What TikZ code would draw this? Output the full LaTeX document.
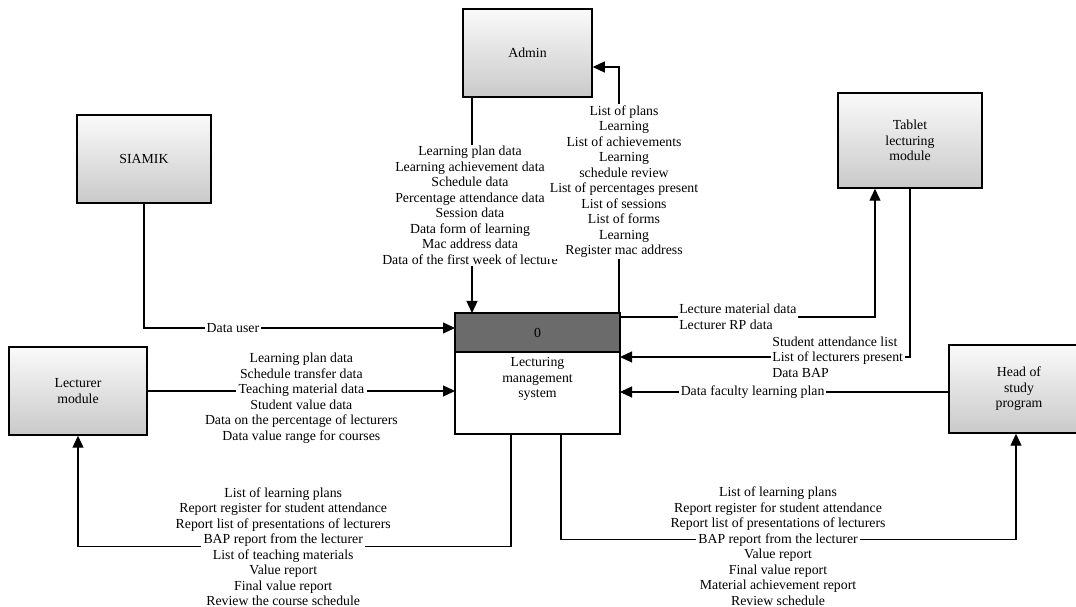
\documentclass[tikz,border=0pt]{standalone}
\usepackage{fontspec}
\setmainfont{Liberation Serif}
\usetikzlibrary{arrows.meta,positioning}

% white patch behind the line of a label that the connector runs through
\newcommand{\online}[1]{{\setlength{\fboxsep}{2.5pt}\colorbox{white}{#1}}}

\begin{document}
\begin{tikzpicture}[x=1pt, y=1pt,
  font=\fontsize{13.8}{15.5}\selectfont,
  entity/.style={draw, line width=1.5pt, top color=gray!4, bottom color=gray!42,
    minimum height=88pt, align=center, inner sep=2pt},
  prochead/.style={draw, line width=1.5pt, fill=black!58, minimum width=165pt,
    minimum height=39pt, outer sep=0pt},
  proc/.style={draw, line width=1.5pt, fill=white, minimum width=165pt,
    minimum height=82pt, outer sep=0pt, align=center},
  flow/.style={line width=1.3pt, -{Triangle[length=12pt,width=11pt]}},
  lbl/.style={align=center, fill=white, inner sep=1.5pt},
  lblplain/.style={align=center, inner sep=0pt}]

\path[use as bounding box, fill=white] (0,0) rectangle (1076,607);
\clip (0,0) rectangle (1076,607);

% external entities
\node[entity, minimum width=129pt] (admin) at (527.5,554) {Admin};
\node[entity, minimum width=134pt] (siamik) at (144,448) {SIAMIK};
\node[entity, minimum width=144pt, minimum height=95pt] (tablet) at (910,466.5) {Tablet\\lecturing\\module};
\node[entity, minimum width=138pt] (lecturer) at (78,216) {Lecturer\\module};
\node[entity, minimum width=140pt] (head) at (1019,218) {Head of\\study\\program};

% process 0
\node[prochead] (lmshead) at (537.5,274.5) {0};
\node[proc, below=0pt of lmshead] (lms) {Lecturing\\management\\system\\~\\~};

% flows
\draw[flow] ([xshift=-55.5pt]admin.south) -- node[lbl, midway, xshift=-2pt]
  {Learning plan data\\Learning achievement data\\Schedule data\\Percentage attendance data\\Session data\\Data form of learning\\Mac address data\\Data of the first week of lecture}
  ([xshift=-55.5pt]admin.south |- lmshead.north);

\draw[flow] ([xshift=-1pt]lmshead.north east) |- node[lbl, pos=0.267, xshift=5pt]
  {List of plans\\Learning\\List of achievements\\Learning\\schedule review\\List of percentages present\\List of sessions\\List of forms\\Learning\\Register mac address}
  ([yshift=-14pt]admin.east);

\draw[flow] (siamik.south) |- node[lbl, pos=0.643] {Data user} ([yshift=4.5pt]lmshead.west);

\draw[flow] (lecturer.east) -- node[lblplain, midway, yshift=-7pt]
  {Learning plan data\\Schedule transfer data\\\online{Teaching material data}\\Student value data\\Data on the percentage of lecturers\\Data value range for courses}
  (lecturer.east -| lms.west);

\draw[flow] ([xshift=-26.5pt]lms.south) |- node[lblplain, pos=0.763]
  {List of learning plans\\Report register for student attendance\\Report list of presentations of lecturers\\\online{BAP report from the lecturer}\\List of teaching materials\\Value report\\Final value report\\Review the course schedule}
  ([yshift=-111pt]lecturer.south) -- (lecturer.south);

\draw[flow] ([xshift=23.5pt]lms.south) |- node[lblplain, pos=0.7385, yshift=-6.5pt]
  {List of learning plans\\Report register for student attendance\\Report list of presentations of lecturers\\\online{BAP report from the lecturer}\\Value report\\Final value report\\Material achievement report\\Review schedule}
  ([xshift=-3pt, yshift=-106pt]head.south) -- ([xshift=-3pt]head.south);

\draw[flow] ([yshift=15.5pt]lmshead.east) -| node[lbl, pos=0.112, anchor=west, align=left]
  {Lecture material data\\Lecturer RP data} ([xshift=-35pt]tablet.south);

\draw[flow] (tablet.south) |- node[lbl, pos=0.741, anchor=west, align=left]
  {Student attendance list\\List of lecturers present\\Data BAP} ([yshift=36pt]lms.east);

\draw[flow] ([yshift=-3pt]head.west) -- node[lbl, pos=0.596] {Data faculty learning plan}
  ([yshift=-3pt]head.west -| lms.east);

\end{tikzpicture}
\end{document}
